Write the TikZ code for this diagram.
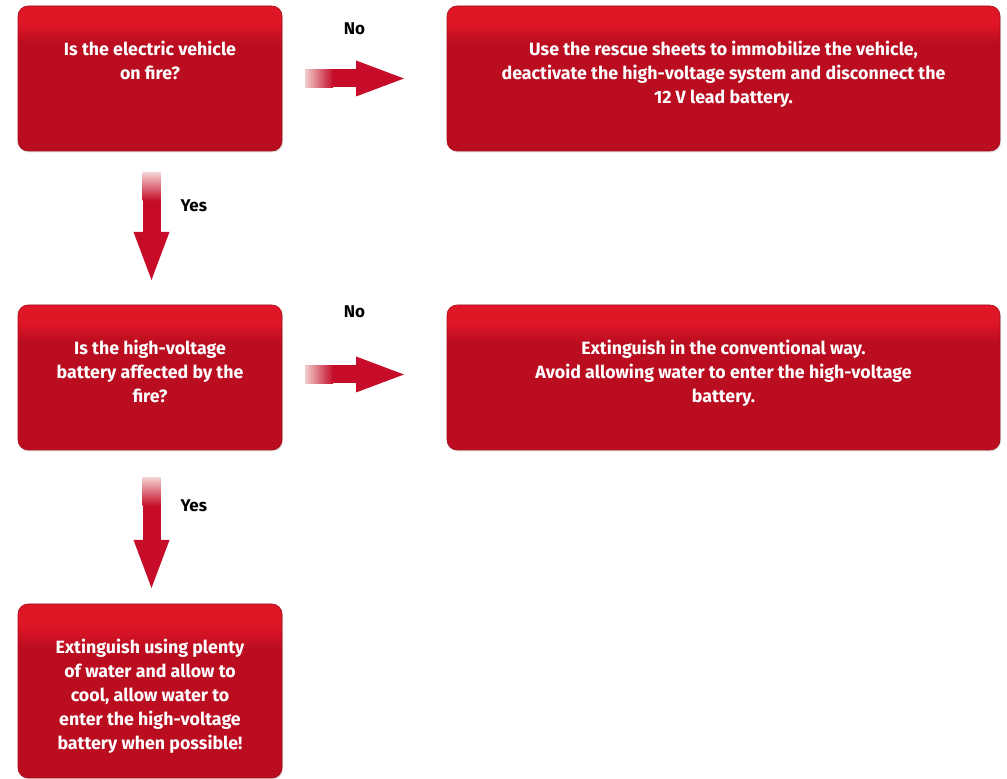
\documentclass[tikz,border=0pt]{standalone}
\usepackage{fontspec}
\setmainfont{Fira Sans}
\usetikzlibrary{positioning,arrows.meta,calc,shadows}
\definecolor{boxtop}{RGB}{223,22,38}
\definecolor{boxmain}{RGB}{186,13,32}
\definecolor{boxedge}{RGB}{165,12,28}
\definecolor{arrowred}{RGB}{198,12,40}
\definecolor{fadepink}{RGB}{242,205,205}
\pgfdeclareverticalshading{boxfill}{100bp}{color(0bp)=(boxmain); color(62bp)=(boxmain); color(69bp)=(boxtop); color(100bp)=(boxtop)}
\tikzset{
    stepbox/.style={
        draw=boxedge,
        line width=0.6pt,
        shade,
        shading=boxfill,
        rounded corners=10pt,
        minimum height=145pt,
        inner sep=0pt,
        outer sep=0pt,
        drop shadow={shadow xshift=1pt, shadow yshift=-1.5pt, opacity=0.25}
    },
    qbox/.style={
        stepbox,
        minimum width=264pt
    },
    actbox/.style={
        stepbox,
        minimum width=553pt
    },
    boxtext/.style={
        text=white,
        align=center,
        inner sep=0pt,
        font=\bfseries\fontsize{17.8}{24}\selectfont
    },
    flowline/.style={
        draw=arrowred,
        line width=18pt,
        -{Triangle[length=48pt 0 0, width=36pt 0 0, line width=0pt]}
    },
    answer/.style={
        text=black,
        inner sep=0pt,
        font=\bfseries\fontsize{17}{20}\selectfont
    }
}

\begin{document}
\begin{tikzpicture}[node distance=154pt and 165pt]
    \useasboundingbox (0,0) rectangle (1007pt,779pt);

    % boxes
    \node[qbox] (fire) at (150pt,700.5pt) {};
    \node[actbox, right=of fire] (sheets) {};
    \node[qbox, below=of fire] (hvbat) {};
    \node[actbox, right=of hvbat] (conv) {};
    \node[qbox, below=of hvbat, minimum height=174pt] (water) {};

    % texts
    \node[boxtext, below=35pt of fire.north] (firetxt) {Is the electric vehicle\\on fire?};
    \node[boxtext, below=35pt of sheets.north] (sheetstxt) {Use the rescue sheets to immobilize the vehicle,\\deactivate the high-voltage system and disconnect the\\12 V lead battery.};
    \node[boxtext, below=35pt of hvbat.north] (hvbattxt) {Is the high-voltage\\battery affected by the\\fire?};
    \node[boxtext, below=35pt of conv.north] (convtxt) {Extinguish in the conventional way.\\Avoid allowing water to enter the high-voltage\\battery.};
    \node[boxtext, below=35pt of water.north] (watertxt) {Extinguish using plenty\\of water and allow to\\cool, allow water to\\enter the high-voltage\\battery when possible!};

    % arrow ends
    \coordinate (n1s) at ($(fire.east)+(23pt,0)$);
    \coordinate (n1e) at ($(sheets.west)+(-43pt,0)$);
    \coordinate (n2s) at ($(hvbat.east)+(23pt,3pt)$);
    \coordinate (n2e) at ($(conv.west)+(-43pt,3pt)$);
    \coordinate (y1s) at ($(fire.south)+(1.5pt,-22pt)$);
    \coordinate (y1e) at ($(hvbat.north)+(1.5pt,25pt)$);
    \coordinate (y2s) at ($(hvbat.south)+(1.5pt,-28pt)$);
    \coordinate (y2e) at ($(water.north)+(1.5pt,16pt)$);

    % arrows
    \path[flowline] (n1s) -- node[answer, above=35pt] {No} (n1e);
    \path[flowline] (n2s) -- node[answer, above=48pt] {No} (n2e);
    \path[flowline] (y1s) -- node[answer, pos=0.31, right=20pt] {Yes} (y1e);
    \path[flowline] (y2s) -- node[answer, pos=0.25, right=20pt] {Yes} (y2e);

    % faded tails
    \shade[left color=fadepink, right color=arrowred] ($(n1s)+(0,-9pt)$) rectangle ($(n1s)+(28pt,9pt)$);
    \shade[left color=fadepink, right color=arrowred] ($(n2s)+(0,-9pt)$) rectangle ($(n2s)+(28pt,9pt)$);
    \shade[top color=fadepink, bottom color=arrowred] ($(y1s)+(-9pt,0)$) rectangle ($(y1s)+(9pt,-28pt)$);
    \shade[top color=fadepink, bottom color=arrowred] ($(y2s)+(-9pt,0)$) rectangle ($(y2s)+(9pt,-28pt)$);
\end{tikzpicture}
\end{document}
